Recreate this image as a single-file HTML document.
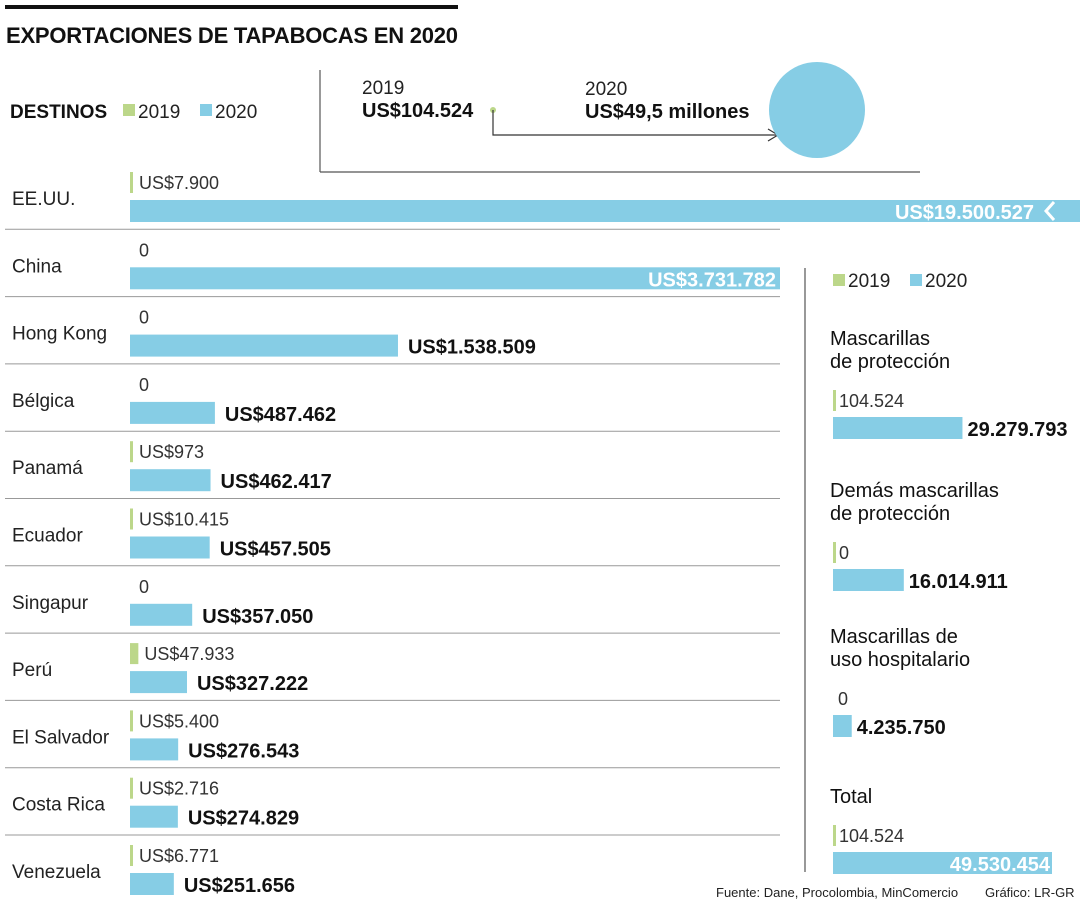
<!DOCTYPE html>
<html><head><meta charset="utf-8"><style>
html,body{margin:0;padding:0;background:#fff}
svg{display:block;font-family:"Liberation Sans",sans-serif}
</style></head><body>
<svg id="c" width="1080" height="900" viewBox="0 0 1080 900" xmlns="http://www.w3.org/2000/svg">
<rect x="5" y="5" width="453" height="4" fill="#111"/>
<text x="6" y="43" font-size="22" font-weight="bold" fill="#111" textLength="452">EXPORTACIONES DE TAPABOCAS EN 2020</text>
<text x="10" y="118" font-size="19" font-weight="bold" fill="#111">DESTINOS</text>
<g>
<rect x="123" y="104" width="12" height="12" fill="#BCD78A"/><text x="138" y="118" font-size="19" fill="#222">2019</text>
<rect x="200" y="104" width="12" height="12" fill="#86CDE5"/><text x="215" y="118" font-size="19" fill="#222">2020</text>
</g>
<g>
<line x1="320" y1="70" x2="320" y2="172" stroke="#555" stroke-width="1.2"/>
<line x1="320" y1="172" x2="920" y2="172" stroke="#555" stroke-width="1.2"/>
<text x="362" y="94" font-size="19" fill="#222">2019</text>
<text x="362" y="117" font-size="20" font-weight="bold" fill="#111">US$104.524</text>
<circle cx="493" cy="110" r="3" fill="#BCD78A"/>
<polyline points="493,110 493,135 778,135" fill="none" stroke="#333" stroke-width="1.2"/>
<polyline points="768,129 778,135 768,141" fill="none" stroke="#333" stroke-width="1.2"/>
<text x="585" y="95" font-size="19" fill="#222">2020</text>
<text x="585" y="118" font-size="20" font-weight="bold" fill="#111">US$49,5 millones</text>
<circle cx="817" cy="110" r="48" fill="#86CDE5"/>
</g>
<g id="left"></g>
<g id="right"></g>
<line x1="805" y1="268" x2="805" y2="872" stroke="#555" stroke-width="1.2"/>
<g>
<rect x="833" y="274" width="12" height="12" fill="#BCD78A"/><text x="848" y="287" font-size="19" fill="#222">2019</text>
<rect x="910" y="274" width="12" height="12" fill="#86CDE5"/><text x="925" y="287" font-size="19" fill="#222">2020</text>
</g>
<text x="716" y="897" font-size="13" fill="#222">Fuente: Dane, Procolombia, MinComercio</text>
<text x="985" y="897" font-size="13" fill="#222">Gráfico: LR-GR</text>
</svg>
<script>
const countries=["EE.UU.","China","Hong Kong","Bélgica","Panamá","Ecuador","Singapur","Perú","El Salvador","Costa Rica","Venezuela"];
const v2019=[7900,0,0,0,973,10415,0,47933,5400,2716,6771];
const v2020=[19500527,3731782,1538509,487462,462417,457505,357050,327222,276543,274829,251656];
const lab2019=["US$7.900","0","0","0","US$973","US$10.415","0","US$47.933","US$5.400","US$2.716","US$6.771"];
const lab2020=["US$19.500.527","US$3.731.782","US$1.538.509","US$487.462","US$462.417","US$457.505","US$357.050","US$327.222","US$276.543","US$274.829","US$251.656"];
const products=[["Mascarillas","de protección"],["Demás mascarillas","de protección"],["Mascarillas de","uso hospitalario"],["Total"]];
const p2019=[104524,0,0,104524];
const p2020=[29279793,16014911,4235750,49530454];
const plab2019=["104.524","0","0","104.524"];
const plab2020=["29.279.793","16.014.911","4.235.750","49.530.454"];
const NS="http://www.w3.org/2000/svg";
function mk(p,t,a){const e=document.createElementNS(NS,t);for(const k in a)e.setAttribute(k,a[k]);p.appendChild(e);return e;}
const X0=130,MAXX=1080;
const xs=v=>X0+v*(650/3731782);
const L=document.getElementById('left');
countries.forEach((c,i)=>{
 const top=172+67.3*i;
 const t=mk(L,'text',{x:12,y:top+33,'font-size':19,fill:'#222'});t.textContent=c;
 
 
 if(i>0){const ln=mk(L,'line',{x1:5,x2:780,y1:top-10,y2:top-10,stroke:'#999','stroke-width':1});
 
 }
 const gw=v2019[i]>0?Math.max(3,xs(v2019[i])-X0):0;
 if(gw>0){const g=mk(L,'rect',{x:X0,y:top,width:gw,height:21,fill:'#BCD78A'});
 
 }
 const t1=mk(L,'text',{x:X0+Math.max(gw,3)+6,y:top+17,'font-size':18,fill:'#333'});t1.textContent=lab2019[i];
 
 
 const end=Math.min(MAXX,xs(v2020[i]));
 const b=mk(L,'rect',{x:X0,y:top+28,width:end-X0,height:22,fill:'#86CDE5'});
 
 
 let t2;
 if(end-X0>500){
  const inner=end>=MAXX?1034:end-4;
  t2=mk(L,'text',{x:inner,y:top+47,'font-size':20,'font-weight':'bold',fill:'#fff','text-anchor':'end'});
  if(end>=MAXX){const z=mk(L,'polyline',{points:(1054)+','+(top+30)+' '+(1046)+','+(top+39)+' '+(1054)+','+(top+48),fill:'none',stroke:'#fff','stroke-width':3});
  
  }
 } else t2=mk(L,'text',{x:end+10,y:top+47,'font-size':20,'font-weight':'bold',fill:'#111'});
 t2.textContent=lab2020[i];
 
 
});
const R=document.getElementById('right');
const PX=833;const ps=v=>PX+v*(219/49530454);
const ptop=[345,497,643,803];
const ptick=[true,true,false,true];
products.forEach((p,i)=>{
 const y=ptop[i];
 p.forEach((ln,j)=>{const t=mk(R,'text',{x:830,y:y+j*23,'font-size':20,fill:'#111'});t.textContent=ln;
 
 });
 const ty=y+(p.length-1)*23;
 const gw=ptick[i]?Math.max(3,ps(p2019[i])-PX):0;
 if(gw>0){const g=mk(R,'rect',{x:PX,y:ty+22,width:gw,height:21,fill:'#BCD78A'});
 
 }
 const t1=mk(R,'text',{x:PX+(gw>0?6:5),y:ty+39,'font-size':18,fill:'#333'});t1.textContent=plab2019[i];
 
 
 const end=ps(p2020[i]);
 const b=mk(R,'rect',{x:PX,y:ty+49,width:end-PX,height:22,fill:'#86CDE5'});
 
 
 let t2;
 if(end-PX>180) t2=mk(R,'text',{x:end-2,y:ty+68,'font-size':20,'font-weight':'bold',fill:'#fff','text-anchor':'end'});
 else t2=mk(R,'text',{x:end+5,y:ty+68,'font-size':20,'font-weight':'bold',fill:'#111'});
 t2.textContent=plab2020[i];
 
 
});
</script>
</body></html>
